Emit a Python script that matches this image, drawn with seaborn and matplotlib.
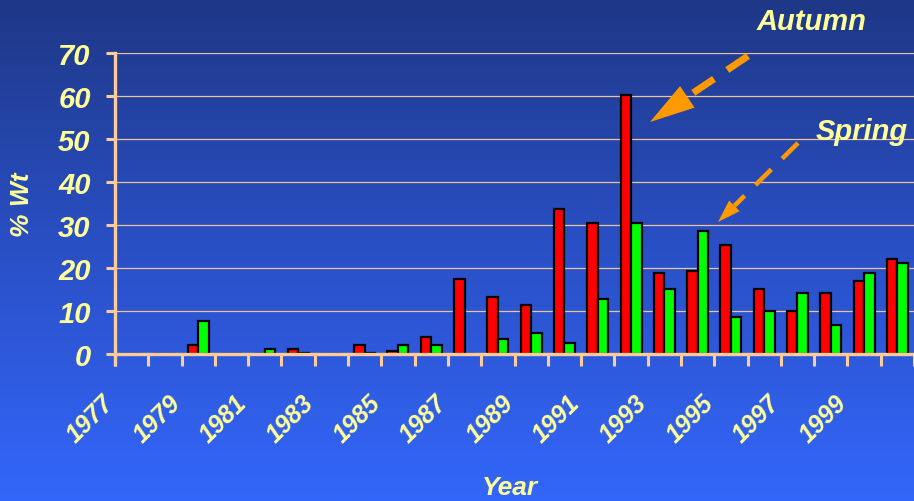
import numpy as np
import pandas as pd
import matplotlib
matplotlib.use("Agg")
import matplotlib.pyplot as plt
import seaborn as sns
from matplotlib.transforms import ScaledTranslation
from matplotlib.lines import Line2D
from matplotlib.patches import Polygon
from matplotlib.colors import LinearSegmentedColormap

years = list(range(1977, 2001))
autumn = [0, 0, 2.2, 0, 0, 1.2, 0, 2.2, 0.8, 4.0, 17.5, 13.3, 11.5, 33.7,
          30.5, 60.2, 18.8, 19.3, 25.3, 15.1, 10.0, 14.2, 17.0, 22.1]
spring = [0, 0, 7.7, 0, 1.2, 0.3, 0, 0.3, 2.2, 2.0, 0, 3.5, 5.0, 2.6,
          12.8, 30.4, 15.1, 28.6, 8.7, 10.0, 14.2, 6.7, 18.8, 21.2]
y_ticks = [0, 10, 20, 30, 40, 50, 60, 70]
x_label_years = [str(y) for y in years[::2]]

df = pd.DataFrame({
    "Year": [str(y) for y in years] * 2,
    "Wt": autumn + spring,
    "Season": ["Autumn"] * len(years) + ["Spring"] * len(years),
})

sns.set_theme(style="white")
plt.rcParams["font.family"] = ["Liberation Sans", "DejaVu Sans"]
plt.rcParams["lines.scale_dashes"] = False

YELLOW = "#FFFF99"
PEACH = "#FFCC99"
ORANGE = "#FF9900"
W, H, DPI = 914, 502, 100

fig = plt.figure(figsize=(W / DPI, H / DPI), dpi=DPI)

# background gradient
bg = fig.add_axes([0, 0, 1, 1], zorder=-10)
cmap = LinearSegmentedColormap.from_list("bg", ["#1E3786", "#2A50C6", "#3366FA"])
grad = np.linspace(0, 1, 256).reshape(-1, 1)
bg.imshow(grad, aspect="auto", cmap=cmap, extent=[0, 1, 0, 1], origin="upper")
bg.set_axis_off()

ax_left, ax_right, ax_bottom, ax_top = 115, 914, 355, 54
ax = fig.add_axes([ax_left / W, 1 - ax_bottom / H, (ax_right - ax_left) / W,
                   (ax_bottom - ax_top) / H])
ax.set_facecolor("none")

sns.barplot(data=df, x="Year", y="Wt", hue="Season", order=[str(y) for y in years],
            palette={"Autumn": "#FF0000", "Spring": "#00FF00"}, saturation=1,
            width=0.63, gap=0, edgecolor="black", linewidth=1.6,
            legend=False, ax=ax)

ax.set_ylim(0, 70)
ax.set_xlim(-0.5, len(years) - 0.5)
ax.set_yticks(y_ticks)
ax.set_yticklabels([str(v) for v in y_ticks])
ax.yaxis.grid(True, color="#EDC39A", linewidth=0.9)
ax.xaxis.grid(False)
ax.set_axisbelow(True)

for s in ["top", "right"]:
    ax.spines[s].set_visible(False)
for s in ["left", "bottom"]:
    ax.spines[s].set_color(PEACH)
    ax.spines[s].set_linewidth(2.4)
    ax.spines[s].set_zorder(5)

# x ticks: labels at every other year, tick marks at category boundaries
ax.set_xticks(list(range(0, len(years), 2)))
ax.set_xticklabels(x_label_years, rotation=45, ha="right")
ax.set_xticks(np.arange(-0.5, len(years), 1.0), minor=True)
ax.tick_params(axis="x", which="major", length=0, pad=26, labelsize=18,
               labelcolor=YELLOW)
ax.tick_params(axis="x", which="minor", length=8.6, width=2.2, color=PEACH,
               direction="out", bottom=True)
ax.tick_params(axis="y", which="major", length=6.5, width=2.2, color=PEACH,
               direction="out", left=True, pad=11, labelsize=21, labelcolor=YELLOW)
offset = ScaledTranslation(-13 / DPI, 0, fig.dpi_scale_trans)
for lab in ax.get_xticklabels():
    lab.set_transform(lab.get_transform() + offset)
    lab.set_fontweight("bold")
    lab.set_fontstyle("italic")
for lab in ax.get_yticklabels():
    lab.set_fontweight("bold")
    lab.set_fontstyle("italic")

# left spine extends below the x axis
ax.add_line(Line2D([ax_left / W, ax_left / W], [1 - ax_bottom / H, 1 - 367 / H],
                   transform=fig.transFigure, color=PEACH, linewidth=2.4,
                   clip_on=False, solid_capstyle="butt"))

ax.set_xlabel("Year", color=YELLOW, fontsize=19, fontweight="bold", fontstyle="italic")
ax.xaxis.set_label_coords((510 - ax_left) / (ax_right - ax_left),
                          -(488 - ax_bottom) / (ax_bottom - ax_top))
ax.xaxis.label.set_va("center")
ax.set_ylabel("% Wt", color=YELLOW, fontsize=19, fontweight="bold", fontstyle="italic")
ax.yaxis.label.set_rotation_mode("default")
ax.yaxis.label.set_va("center")
ax.yaxis.label.set_ha("center")
ax.yaxis.set_label_coords(-(ax_left - 22) / (ax_right - ax_left), 0.5)

# annotations (figure pixel coordinates, y from top)
def fx(x):
    return x / W

def fy(y):
    return 1 - y / H

fig.text(fx(812), fy(22), "Autumn", color=YELLOW, fontsize=21, fontweight="bold",
         fontstyle="italic", ha="center", va="center")
fig.text(fx(862), fy(132), "Spring", color=YELLOW, fontsize=21, fontweight="bold",
         fontstyle="italic", ha="center", va="center")


def dashed_arrow(tail, tip, head_len, head_half, lw, dashes):
    tail = np.array(tail, float)
    tip = np.array(tip, float)
    d = tail - tip
    u = d / np.linalg.norm(d)
    perp = np.array([-u[1], u[0]])
    base = tip + u * head_len
    line = Line2D([fx(tail[0]), fx(base[0])], [fy(tail[1]), fy(base[1])],
                  transform=fig.transFigure, color=ORANGE, linewidth=lw,
                  linestyle=(0, dashes), dash_capstyle="butt")
    fig.add_artist(line)
    pts = [tip, base + perp * head_half, base - perp * head_half]
    poly = Polygon([[fx(p[0]), fy(p[1])] for p in pts], closed=True,
                   transform=fig.transFigure, facecolor=ORANGE, edgecolor="none")
    fig.add_artist(poly)


dashed_arrow((748, 57), (650, 123), 45, 13, 5.0, (18, 11.5))
dashed_arrow((798, 144), (718, 223), 23, 7.5, 3.3, (16, 11))

fig.savefig("out.png", dpi=DPI)
